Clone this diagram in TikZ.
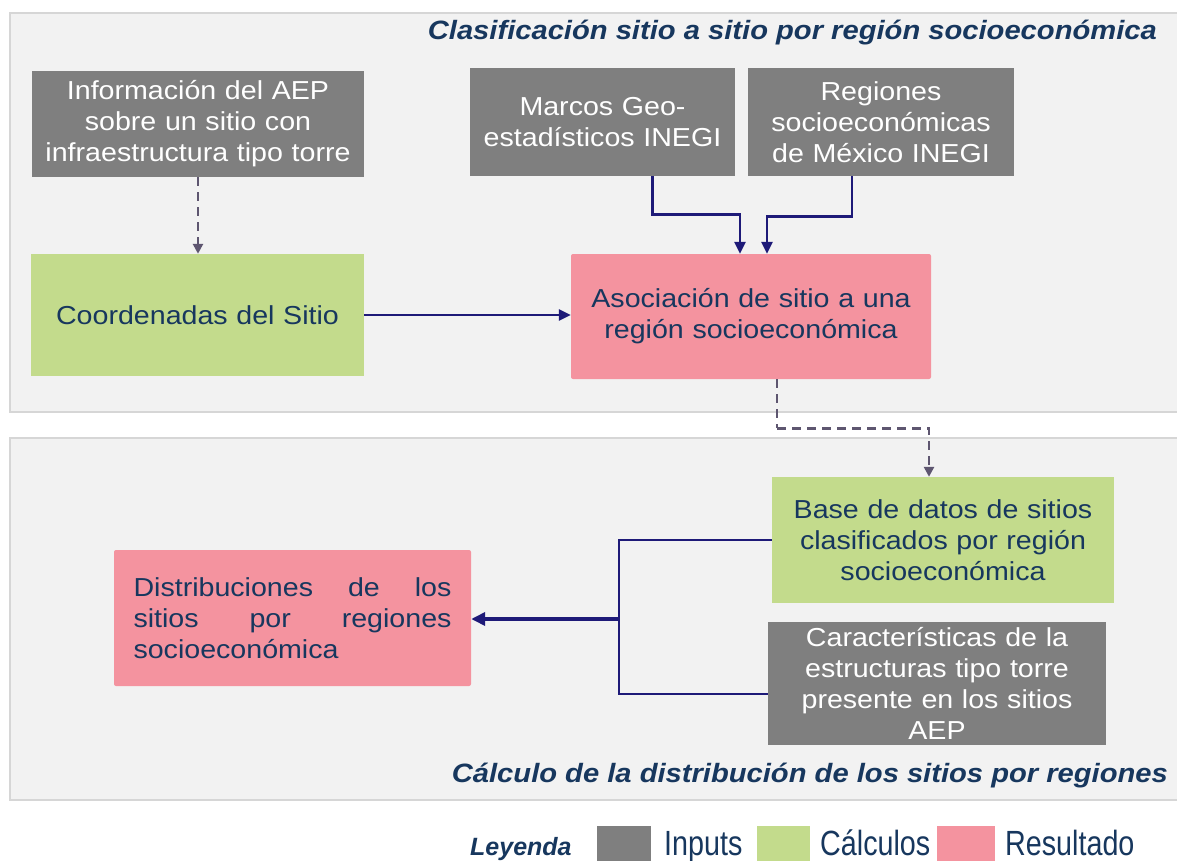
\documentclass[tikz,border=0pt]{standalone}
\usepackage{fontspec}
\setmainfont{Liberation Sans}[FakeStretch=1.1]
\newfontfamily\legfont{Liberation Sans}[FakeStretch=0.82]
\newfontfamily\plainsans{Liberation Sans}
\usetikzlibrary{arrows.meta}
\definecolor{grayc}{HTML}{7F7F7F}
\definecolor{greenc}{HTML}{C3DB8C}
\definecolor{pinkc}{HTML}{F4939F}
\definecolor{navyt}{HTML}{17375E}
\definecolor{arrc}{HTML}{1E1A78}
\definecolor{dashc}{HTML}{5E5670}
\definecolor{panelf}{HTML}{F2F2F2}
\definecolor{paneld}{HTML}{D6D6D6}
\tikzset{
  txt/.style={font=\fontsize{26}{31}\selectfont},
  boxbase/.style={txt, inner xsep=0pt, inner ysep=0pt, align=center},
  inbox/.style={boxbase, fill=grayc, text=white},
  calcbox/.style={boxbase, fill=greenc, text=navyt},
  resbox/.style={boxbase, fill=pinkc, text=navyt, rounded corners=2pt},
  panel/.style={fill=panelf, draw=paneld, line width=2.5pt},
  arr/.style={draw=arrc, line width=2.6pt, -{Triangle[length=12pt,width=11pt]}},
  conn/.style={draw=arrc, line width=2.6pt},
  darr/.style={draw=dashc, line width=2.6pt, dash pattern=on 9pt off 6pt, -{Triangle[length=10pt,width=10pt]}},
  dline/.style={draw=dashc, line width=2.6pt, dash pattern=on 9pt off 6pt},
  ttl/.style={font=\fontsize{26.5}{30}\selectfont\bfseries\itshape, text=navyt, inner sep=0pt},
  legtxt/.style={font=\legfont\fontsize{35}{36}\selectfont, text=navyt, inner sep=0pt},
}
\begin{document}
\begin{tikzpicture}[x=1pt,y=-1pt]
\useasboundingbox (0,0) rectangle (1177,861);
\fill[white] (0,0) rectangle (1177,861);
% panels
\draw[panel] (10,13) rectangle (1185,412);
\draw[panel] (10,438) rectangle (1185,800);
% titles
\node[ttl, anchor=east] (t1) at (1157,33) {Clasificación sitio a sitio por región socioeconómica};
\node[ttl, anchor=east] (t2) at (1168,776) {Cálculo de la distribución de los sitios por regiones};
% boxes
\node[inbox, text width=332pt, minimum height=106pt] (aep) at (198,124)
  {Información del AEP\\sobre un sitio con\\infraestructura tipo torre};
\node[inbox, text width=265pt, minimum height=108pt] (marcos) at (602.5,122)
  {Marcos Geo-\\estadísticos INEGI};
\node[inbox, text width=266pt, minimum height=108pt] (reg) at (881,122)
  {Regiones\\socioeconómicas\\de México INEGI};
\node[calcbox, text width=333pt, minimum height=122pt] (coord) at (197.5,315)
  {Coordenadas del Sitio};
\node[resbox, text width=360pt, minimum height=125pt] (asoc) at (751,316.5)
  {Asociación de sitio a una\\región socioeconómica};
\node[calcbox, text width=342pt, minimum height=126pt] (base) at (943,540)
  {Base de datos de sitios\\clasificados por región\\socioeconómica};
\node[inbox, text width=338pt, minimum height=123pt] (car) at (937,683.5)
  {Características de la\\estructuras tipo torre\\presente en los sitios\\AEP};
\node[resbox, align=left, text width=318pt, inner xsep=19.5pt, minimum height=136pt] (dist) at (292.5,618)
  {Distribuciones\hfill de\hfill los\\sitios\hfill por\hfill regiones\\socioeconómica};
% connectors
\draw[darr] (aep.south) -- (aep.south |- coord.north);
\draw[arr] (coord.east) -- (coord.east -| asoc.west);
\draw[arr] ([xshift=50pt]marcos.south) -- ++(0,38) -| ([xshift=-11pt]asoc.north);
\draw[arr] ([xshift=-29pt]reg.south) -- ++(0,40) -| ([xshift=16pt]asoc.north);
\draw[dline] ([xshift=26pt]asoc.south) -- ++(0,49) coordinate (dk);
\draw[darr] (dk) -| ([xshift=-14pt]base.north);
\coordinate (j) at (619,619);
\draw[conn] (base.west) -| (j) |- ([yshift=-10.5pt]car.west);
\draw[draw=arrc, line width=3.6pt, -{Triangle[length=14pt,width=13pt]}] (j) -- (j -| dist.east);
% legend
\node[font=\plainsans\fontsize{25}{26}\selectfont\bfseries\itshape, text=navyt, anchor=base west, inner sep=0pt] (ley) at (470,855) {Leyenda};
\fill[grayc] (597,826) rectangle (651,865);
\node[legtxt, anchor=base west] (l1) at (664,855) {Inputs};
\fill[greenc] (757,826) rectangle (810,865);
\node[legtxt, anchor=base west] (l2) at (820,855) {Cálculos};
\fill[pinkc] (937,826) rectangle (995,865);
\node[legtxt, anchor=base west] (l3) at (1005,855) {Resultado};
\end{tikzpicture}
\end{document}
